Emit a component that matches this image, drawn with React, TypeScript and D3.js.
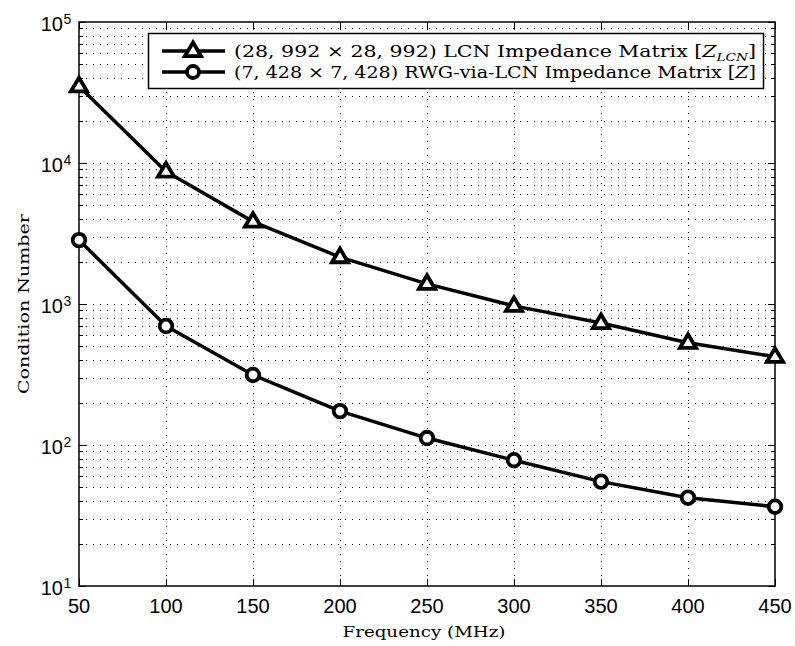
import React from "react";
import * as d3 from "d3";

const freqs = [50, 100, 150, 200, 250, 300, 350, 400, 450];
const lcnValues = [35000, 8700, 3840, 2150, 1390, 970, 733, 531, 423];
const rwgValues = [2840, 698, 314, 174, 112, 78, 55, 42.3, 36.5];
const xTicks = [50, 100, 150, 200, 250, 300, 350, 400, 450];
const yExps = [1, 2, 3, 4, 5];

const W = 795, H = 646;
const m = { left: 79, right: 775, top: 22, bottom: 586 };

export default function App() {
  const x = d3.scaleLinear().domain([50, 450]).range([m.left, m.right]);
  const y = d3.scaleLog().domain([10, 100000]).range([m.bottom, m.top]);
  const line = d3.line<number>().x((_, i) => x(freqs[i])).y((v) => y(v));

  const minorY: number[] = [];
  for (let e = 1; e < 5; e++) for (let k = 2; k <= 9; k++) minorY.push(k * Math.pow(10, e));

  const sans = "Liberation Sans, Arial, sans-serif";
  const serif = "DejaVu Serif, serif";
  const tri = (cx: number, cy: number, s = 8.5) =>
    `M${cx},${cy - s} L${cx + s * 0.95},${cy + s * 0.6} L${cx - s * 0.95},${cy + s * 0.6} Z`;

  return (
    <svg width={W} height={H} style={{ position: "absolute", left: 0, top: 0, background: "#fff" }}>
      <rect x={0} y={0} width={W} height={H} fill="#fff" />
      {/* grid */}
      <g stroke="#000" strokeWidth={1} strokeDasharray="1,6" fill="none">
        {minorY.concat(yExps.slice(1, 4).map((e) => Math.pow(10, e))).map((v, i) => (
          <line key={"gy" + i} x1={m.left} x2={m.right} y1={Math.round(y(v)) + 0.5} y2={Math.round(y(v)) + 0.5} />
        ))}
        {xTicks.slice(1, -1).map((v, i) => (
          <line key={"gx" + i} x1={Math.round(x(v)) + 0.5} x2={Math.round(x(v)) + 0.5} y1={m.top} y2={m.bottom} />
        ))}
      </g>
      {/* ticks */}
      <g stroke="#000" strokeWidth={1}>
        {xTicks.map((v, i) => {
          const px = Math.round(x(v)) + 0.5;
          return (
            <g key={"tx" + i}>
              <line x1={px} x2={px} y1={m.bottom} y2={m.bottom - 7} />
              <line x1={px} x2={px} y1={m.top} y2={m.top + 7} />
            </g>
          );
        })}
        {yExps.map((e) => {
          const py = Math.round(y(Math.pow(10, e))) + 0.5;
          return (
            <g key={"ty" + e}>
              <line x1={m.left} x2={m.left + 7} y1={py} y2={py} />
              <line x1={m.right} x2={m.right - 7} y1={py} y2={py} />
            </g>
          );
        })}
        {minorY.map((v, i) => {
          const py = Math.round(y(v)) + 0.5;
          return (
            <g key={"my" + i}>
              <line x1={m.left} x2={m.left + 4} y1={py} y2={py} />
              <line x1={m.right} x2={m.right - 4} y1={py} y2={py} />
            </g>
          );
        })}
      </g>
      <rect x={m.left} y={m.top} width={m.right - m.left} height={m.bottom - m.top} fill="none" stroke="#000" strokeWidth={1.5} />
      {/* tick labels */}
      <g fontFamily={sans} fontSize={20} fill="#000">
        {xTicks.map((v, i) => (
          <text key={"lx" + i} x={x(v)} y={613} textAnchor="middle">{v}</text>
        ))}
        {yExps.map((e) => (
          <text key={"ly" + e} x={63} y={y(Math.pow(10, e)) + 8.5} textAnchor="end">
            10
          </text>
        ))}
        {yExps.map((e) => (
          <text key={"le" + e} x={63.5} y={y(Math.pow(10, e)) + 2} fontSize={14}>
            {e}
          </text>
        ))}
      </g>
      {/* axis labels */}
      <text x={424} y={637} textAnchor="middle" fontFamily={serif} fontSize={15.5} textLength={163} lengthAdjust="spacingAndGlyphs">
        Frequency (MHz)
      </text>
      <text transform={`translate(29,${(m.top + m.bottom) / 2}) rotate(-90)`} textAnchor="middle" fontFamily={serif} fontSize={15.5} textLength={180} lengthAdjust="spacingAndGlyphs">
        Condition Number
      </text>
      {/* lines */}
      <g fill="none" stroke="#000" strokeWidth={3.5} strokeLinejoin="round">
        <path d={line(lcnValues) || ""} />
        <path d={line(rwgValues) || ""} />
      </g>
      <g stroke="#000" strokeWidth={3.8} fill="#fff">
        {lcnValues.map((v, i) => (
          <path key={"t" + i} d={tri(x(freqs[i]), y(v))} strokeLinejoin="miter" />
        ))}
        {rwgValues.map((v, i) => (
          <circle key={"c" + i} cx={x(freqs[i])} cy={y(v)} r={6.3} />
        ))}
      </g>
      {/* legend */}
      <g>
        <rect x={148.5} y={33.5} width={615} height={55} fill="#fff" stroke="#000" strokeWidth={1.5} />
        <line x1={162} x2={225} y1={51} y2={51} stroke="#000" strokeWidth={3.5} />
        <path d={tri(193, 51)} stroke="#000" strokeWidth={3.8} fill="#fff" />
        <line x1={162} x2={225} y1={72} y2={72} stroke="#000" strokeWidth={3.5} />
        <circle cx={193} cy={72} r={6} stroke="#000" strokeWidth={3.8} fill="#fff" />
        <text x={234} y={57} fontFamily={serif} fontSize={16.5} textLength={522} lengthAdjust="spacingAndGlyphs">
          (28, 992 × 28, 992) LCN Impedance Matrix [<tspan fontStyle="italic">Z</tspan>
          <tspan fontStyle="italic" fontSize={11} dy={4}>LCN</tspan>
          <tspan dy={-4}>]</tspan>
        </text>
        <text x={234} y={78} fontFamily={serif} fontSize={16.5} textLength={522} lengthAdjust="spacingAndGlyphs">
          (7, 428 × 7, 428) RWG-via-LCN Impedance Matrix [<tspan fontStyle="italic">Z</tspan>]
        </text>
      </g>
    </svg>
  );
}
